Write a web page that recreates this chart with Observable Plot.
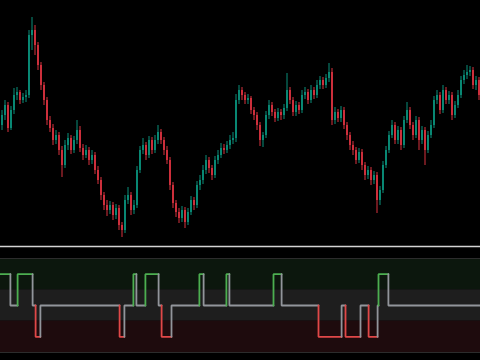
<!DOCTYPE html>
<html>
<head>
<meta charset="utf-8">
<script src="https://cdn.jsdelivr.net/npm/d3@7"></script>
<script src="https://cdn.jsdelivr.net/npm/@observablehq/plot@0.6"></script>
<style>
html, body { margin: 0; padding: 0; background: #000; }
#chart { width: 480px; height: 360px; background: #000; overflow: hidden; }
#chart svg { display: block; }
</style>
</head>
<body>
<div id="chart"></div>
<script>
// ---- Price candles (one per bar) ----
const open = [125,135,145,122,140,155,158,150,153,155, 215,220,205,185,165,150,130,122,110,115,
  100,85,105,112,100,110,120,102,95,100, 90,95,80,70,55,45,40,45,35,42,
  25,20,50,55,40,45,80,100,105,95, 110,100,110,118,110,100,90,65,47,38,
  32,40,28,38,50,45,65,70,80,90, 82,75,90,95,102,100,105,110,112,150,
  160,155,150,152,140,135,125,110,115,135, 145,138,132,138,135,142,160,150,138,145,
  140,155,158,150,160,155,165,170,165,172, 178,130,138,132,140,125,115,105,100,90,
  98,85,75,80,70,75,50,60,85,100, 115,125,110,120,105,130,140,125,115,130,
  110,120,100,115,125,150,155,140,160,150, 155,135,145,155,170,175,178,180,165,170];
const close = [135,145,122,140,155,158,150,153,155,215, 220,205,185,165,150,130,122,110,115,100,
  85,105,112,100,110,120,102,95,100,90, 95,80,70,55,45,40,45,35,42,25,
  20,50,55,40,45,80,100,105,95,110, 100,110,118,110,100,90,65,47,38,32,
  40,28,38,50,45,65,70,80,90,82, 75,90,95,102,100,105,110,112,150,160,
  155,150,152,140,135,125,110,115,135,145, 138,132,138,135,142,160,150,138,145,140,
  155,158,150,160,155,165,170,165,172,178, 130,138,132,140,125,115,105,100,90,98,
  85,75,80,70,75,50,60,85,100,115, 125,110,120,105,130,140,125,115,130,110,
  120,100,115,125,150,155,140,160,150,155, 135,145,155,170,175,178,180,165,170,155];
const high = [140,150,148,144,162,163,160,157,160,220, 233,225,208,188,168,153,134,126,120,118,
  104,110,117,115,114,130,124,106,105,103, 100,98,84,73,58,50,49,48,46,45,
  28,55,63,58,50,84,104,112,108,114, 113,115,125,121,113,104,93,68,50,42,
  44,43,42,54,53,69,75,85,95,93, 85,94,100,107,106,109,115,118,156,165,
  163,158,156,154,143,138,128,118,139,150, 148,141,142,141,146,177,163,153,149,148,
  160,163,161,165,163,170,174,173,176,187, 182,143,141,144,143,128,118,109,103,102,
  101,88,84,83,79,78,64,89,104,119, 130,128,124,123,134,148,143,128,134,133,
  124,123,119,130,154,160,158,165,163,159, 158,149,160,174,180,185,184,183,174,173];
const low = [120,130,118,120,136,150,146,147,148,152, 200,195,180,160,145,125,118,105,106,95,
  73,82,100,96,97,106,98,90,92,85, 86,76,66,50,40,34,36,30,31,20,
  13,17,46,35,36,42,77,96,90,92, 96,97,106,106,95,86,60,42,33,27,
  28,22,25,35,40,42,60,66,76,77, 70,72,86,92,96,97,101,106,108,146,
  150,146,146,136,130,120,104,103,112,131, 134,128,129,130,131,139,146,134,134,136,
  137,151,146,147,151,152,161,161,162,168, 125,126,128,128,121,110,100,95,86,87,
  80,70,71,65,66,37,45,57,82,97, 112,106,106,100,102,127,121,110,112,100,
  106,85,97,112,122,146,136,137,146,146, 130,132,142,152,166,171,174,161,160,150];

// ---- Signal indicator: level changes (bar position, new level) ----
const sigStart = [-0.5, 2.8, 5.2, 10.2, 11.2, 12.8, 39.2, 40.8, 43.8, 44.8, 47.8, 52.2, 53.2, 56.5,
  65.8, 67.2, 74.8, 75.8, 90.5, 93.2, 105.5, 113.2, 114.5, 119.5, 122.2, 125.2, 125.5, 128.8];
const sigLevel = [1, 0, 1, 0, -1, 0, -1, 0, 1, 0, 1, 0, -1, 0,
  1, 0, 1, 0, 1, 0, -1, 0, -1, 0, -1, 0, 1, 0];
const zoneLo = [0.5, -0.5, -1.5];
const zoneHi = [1.5, 0.5, -0.5];

const nBars = close.length;
const xDomain = [-0.5, nBars - 0.5];
const UP = "#0a8f7a", DOWN = "#d9323f";
const levelColor = {"1": "#4caf50", "0": "#92959b", "-1": "#e04848"};
const zoneColor = ["#0c170d", "#1e1e1e", "#1e0b0d"];

const candles = close.map((c, i) => ({i, o: open[i], h: high[i], l: low[i], c}));

const pricePlot = Plot.plot({
  width: 480, height: 248,
  marginTop: 17, marginBottom: 2, marginLeft: 0, marginRight: 0,
  style: {background: "#000"},
  x: {domain: xDomain, axis: null},
  y: {domain: [4, 233], axis: null},
  marks: [
    Plot.ruleX(candles, {x: "i", y1: "l", y2: "h", stroke: d => d.c >= d.o ? UP : DOWN, strokeWidth: 1}),
    Plot.ruleX(candles, {x: "i", y1: "o", y2: "c", stroke: d => d.c >= d.o ? UP : DOWN, strokeWidth: 1.8}),
    Plot.frame({anchor: "bottom", stroke: "#d4d4d4", strokeWidth: 1.5})
  ]
});

const zones = zoneLo.map((lo, k) => ({lo, hi: zoneHi[k], fill: zoneColor[k]}));
const segPts = [];
sigStart.forEach((s, k) => {
  const end = k + 1 < sigStart.length ? sigStart[k + 1] : xDomain[1];
  const prev = k > 0 ? sigLevel[k - 1] : sigLevel[k];
  const col = levelColor[String(sigLevel[k])];
  segPts.push({seg: k, x: s, y: prev, col});
  segPts.push({seg: k, x: s, y: sigLevel[k], col});
  segPts.push({seg: k, x: end, y: sigLevel[k], col});
});

const signalPlot = Plot.plot({
  width: 480, height: 112,
  marginTop: 10, marginBottom: 8, marginLeft: 0, marginRight: 0,
  style: {background: "#000"},
  x: {domain: xDomain, axis: null},
  y: {domain: [-1.5, 1.5], axis: null},
  marks: [
    Plot.rectY(zones, {x1: xDomain[0], x2: xDomain[1], y1: "lo", y2: "hi", fill: "fill"}),
    Plot.ruleY([zoneHi[0], zoneLo[2]], {stroke: "#2c2c2c", strokeWidth: 1}),
    Plot.line(segPts, {x: "x", y: "y", z: "seg", stroke: "col", strokeWidth: 1.8, strokeLinejoin: "miter", curve: "linear"})
  ]
});

const el = document.getElementById("chart");
el.appendChild(pricePlot);
el.appendChild(signalPlot);
</script>
</body>
</html>
